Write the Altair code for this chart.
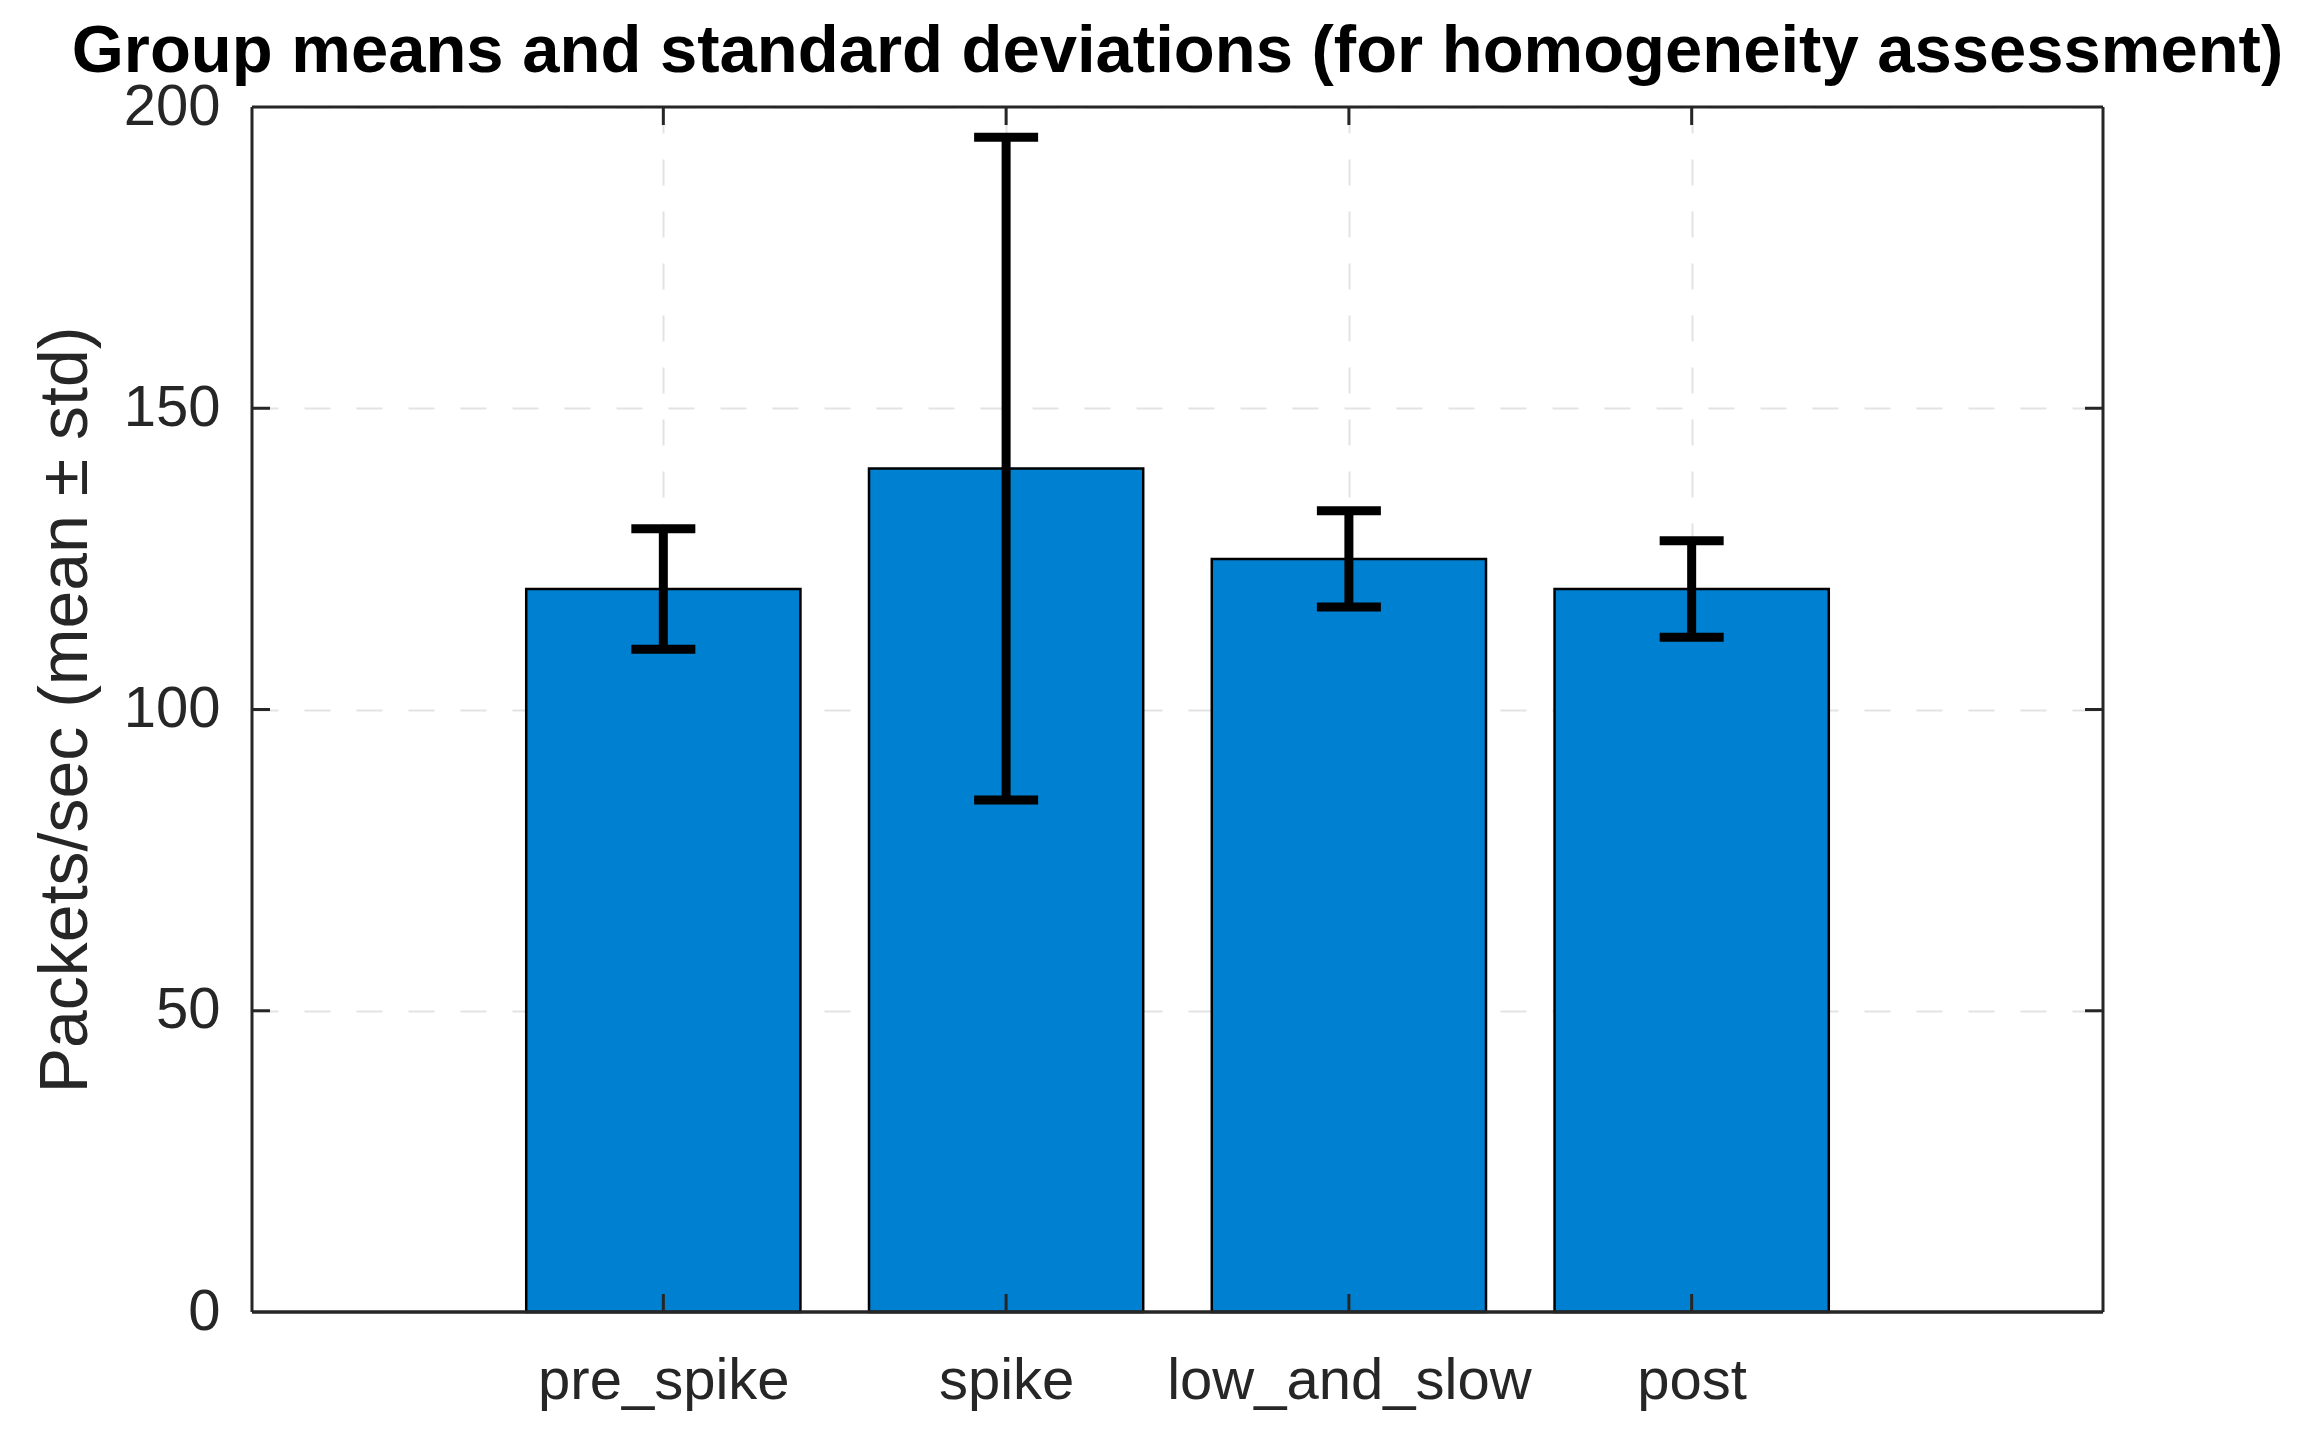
import altair as alt
import pandas as pd

groups = ["pre_spike", "spike", "low_and_slow", "post"]
positions = [1, 2, 3, 4]
means = [120, 140, 125, 120]
stds = [10, 55, 8, 8]
y_ticks = [0, 50, 100, 150, 200]
inner_y_ticks = [50, 100, 150]

df = pd.DataFrame({"group": groups, "pos": positions, "mean": means, "std": stds})
yt = pd.DataFrame({"v": inner_y_ticks})
one = pd.DataFrame({"k": [0]})

W, H = 1851, 1205
BAR_COLOR = "#0080d0"
AX = "#262626"
FONT = "Liberation Sans"
TICK = 18
GRID = dict(grid=True, gridDash=[26, 26], gridColor="#e3e3e3", gridWidth=2)

xscale = alt.Scale(domain=[-0.2, 5.2], nice=False, zero=False)
yscale = alt.Scale(domain=[0, 200], nice=False)

label_expr = "[" + ",".join(f"'{g}'" for g in groups) + "][datum.value - 1]"

base = alt.Chart(df)

bars = base.transform_calculate(
    left="datum.pos - 0.4", right="datum.pos + 0.4"
).mark_bar(color=BAR_COLOR, stroke="black", strokeWidth=2.5).encode(
    x=alt.X("left:Q", scale=xscale,
            axis=alt.Axis(values=positions, labelExpr=label_expr, title=None,
                          ticks=False, domain=False, labelFontSize=58, labelFont=FONT,
                          labelColor=AX, labelPadding=40, labelLimit=0, **GRID)),
    x2="right:Q",
    y=alt.Y("mean:Q", scale=yscale,
            axis=alt.Axis(values=y_ticks, title="Packets/sec (mean ± std)",
                          ticks=False, domain=False, labelFontSize=58, labelFont=FONT,
                          labelColor=AX, labelPadding=32,
                          titleFont=FONT, titleFontSize=68, titleFontWeight="normal",
                          titleColor=AX, titleAngle=270, titleBaseline="alphabetic",
                          titleX=-166, titleY=H / 2, titleAlign="center", **GRID)),
    y2=alt.datum(0),
)

err = base.transform_calculate(
    lo="datum.mean - datum.std", hi="datum.mean + datum.std"
)
err_line = err.mark_rule(color="black", strokeWidth=9).encode(
    x=alt.X("pos:Q", scale=xscale), y=alt.Y("lo:Q", scale=yscale), y2="hi:Q"
)
cap_lo = err.mark_tick(orient="horizontal", size=64, thickness=9, color="black", opacity=1).encode(
    x=alt.X("pos:Q", scale=xscale), y=alt.Y("lo:Q", scale=yscale)
)
cap_hi = err.mark_tick(orient="horizontal", size=64, thickness=9, color="black", opacity=1).encode(
    x=alt.X("pos:Q", scale=xscale), y=alt.Y("hi:Q", scale=yscale)
)

ytick_l = alt.Chart(yt).mark_rule(color=AX, strokeWidth=3).encode(
    y=alt.Y("v:Q", scale=yscale), x=alt.value(0), x2=alt.value(TICK))
ytick_r = alt.Chart(yt).mark_rule(color=AX, strokeWidth=3).encode(
    y=alt.Y("v:Q", scale=yscale), x=alt.value(W - TICK), x2=alt.value(W))
xtick_b = base.mark_rule(color=AX, strokeWidth=3).encode(
    x=alt.X("pos:Q", scale=xscale), y=alt.value(H - TICK), y2=alt.value(H))
xtick_t = base.mark_rule(color=AX, strokeWidth=3).encode(
    x=alt.X("pos:Q", scale=xscale), y=alt.value(0), y2=alt.value(TICK))

frame = alt.Chart(one)
f_left = frame.mark_rule(color=AX, strokeWidth=3).encode(
    x=alt.value(0), y=alt.value(0), y2=alt.value(H))
f_right = frame.mark_rule(color=AX, strokeWidth=3).encode(
    x=alt.value(W), y=alt.value(0), y2=alt.value(H))
f_top = frame.mark_rule(color=AX, strokeWidth=3).encode(
    y=alt.value(0), x=alt.value(0), x2=alt.value(W))
f_bottom = frame.mark_rule(color=AX, strokeWidth=3.5).encode(
    y=alt.value(H), x=alt.value(0), x2=alt.value(W))

chart = alt.layer(
    bars, ytick_l, ytick_r, xtick_b, xtick_t,
    f_left, f_right, f_top, f_bottom,
    err_line, cap_lo, cap_hi
).properties(
    width=W, height=H,
    title=alt.TitleParams(
        "Group means and standard deviations (for homogeneity assessment)",
        font=FONT, fontSize=67, fontWeight="bold", color="black",
        anchor="middle", baseline="alphabetic", offset=0, dy=61),
    autosize=alt.AutoSizeParams(type="none"),
    padding={"left": 244, "top": 99, "right": 184, "bottom": 100},
).configure_view(stroke=None).configure(background="white")

chart.save("out.html", embed_options={"renderer": "svg", "actions": False})
